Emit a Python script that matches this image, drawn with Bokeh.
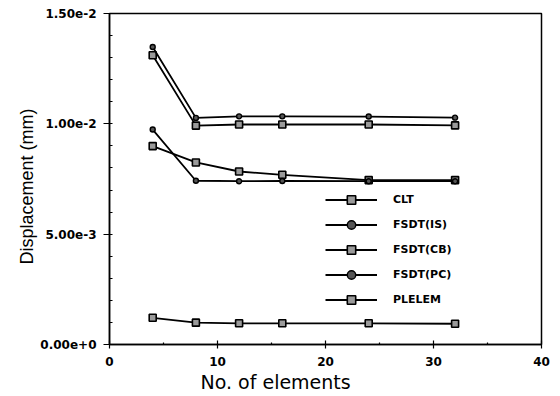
from bokeh.plotting import figure
from bokeh.models import Range1d, FixedTicker, Legend, LegendItem, Title
from bokeh.embed import file_html
from bokeh.resources import INLINE

elements = [4, 8, 12, 16, 24, 32]
clt = [0.01311, 0.00992, 0.00997, 0.00997, 0.00997, 0.00993]
fsdt_is = [0.01348, 0.01027, 0.01034, 0.01034, 0.01033, 0.01028]
fsdt_cb = [0.00899, 0.00825, 0.00784, 0.00769, 0.00745, 0.00745]
fsdt_pc = [0.00974, 0.00742, 0.00740, 0.00741, 0.00740, 0.00740]
plelem = [0.00121, 0.00099, 0.00096, 0.00096, 0.00096, 0.00094]

y_ticks = [0.0, 0.005, 0.01, 0.015]
y_tick_labels = ["0.00e+0", "5.00e-3", "1.00e-2", "1.50e-2"]
x_ticks = [0, 10, 20, 30, 40]

p = figure(width=555, height=392, output_backend="svg", toolbar_location=None,
           x_range=Range1d(0, 40), y_range=Range1d(0, 0.015),
           min_border_left=109, min_border_right=14, min_border_top=13, min_border_bottom=45)
p.xgrid.visible = False
p.ygrid.visible = False
p.outline_line_color = "black"
p.outline_line_width = 1.5
p.background_fill_color = "white"
p.border_fill_color = "white"

series = [
    ("CLT", clt, "square"),
    ("FSDT(IS)", fsdt_is, "circle"),
    ("FSDT(CB)", fsdt_cb, "square"),
    ("FSDT(PC)", fsdt_pc, "circle"),
    ("PLELEM", plelem, "square"),
]

items = []
for name, ys, mk in series:
    r1 = p.line(elements, ys, line_color="black", line_width=1.8)
    if mk == "square":
        r2 = p.scatter(elements, ys, marker="square", size=7, fill_color="#9a9a9a",
                       line_color="black", line_width=1.6)
    else:
        r2 = p.scatter(elements, ys, marker="circle", size=5, fill_color="#555555",
                       line_color="black", line_width=1.4)
    items.append(LegendItem(label=name, renderers=[r1, r2]))

legend = Legend(items=items, location=(216, 34), padding=0, margin=0,
                glyph_width=52, glyph_height=21, label_height=21, spacing=4,
                label_standoff=16, border_line_color=None, background_fill_alpha=0,
                label_text_font="DejaVu Sans", label_text_font_style="bold",
                label_text_font_size="11px", label_text_color="black")
p.add_layout(legend)

p.yaxis.ticker = FixedTicker(ticks=y_ticks,
                             minor_ticks=[i * 0.001 for i in range(16)])
p.yaxis.major_label_overrides = {t: l for t, l in zip(y_ticks, y_tick_labels)}
p.xaxis.ticker = FixedTicker(ticks=x_ticks, minor_ticks=[5, 15, 25, 35])

for ax in (p.xaxis[0], p.yaxis[0]):
    ax.axis_line_color = "black"
    ax.axis_line_width = 1.5
    ax.major_tick_line_color = "black"
    ax.minor_tick_line_color = "black"
    ax.major_tick_line_width = 1.2
    ax.minor_tick_line_width = 1.2
    ax.major_label_text_font = "DejaVu Sans"
    ax.major_label_text_font_style = "bold"
    ax.major_label_text_font_size = "12px"
    ax.major_label_text_color = "black"

p.yaxis.major_tick_out = 6
p.yaxis.major_tick_in = 0
p.yaxis.minor_tick_out = 0
p.yaxis.minor_tick_in = 3
p.yaxis.major_label_standoff = 7
p.xaxis.major_tick_out = 4
p.xaxis.major_tick_in = 4
p.xaxis.minor_tick_out = 0
p.xaxis.minor_tick_in = 2
p.xaxis.major_label_standoff = 8

p.add_layout(Title(text="No.  of elements", align="left", offset=91,
                   text_font="DejaVu Sans", text_font_style="normal",
                   text_font_size="19px", text_color="black", standoff=0), "below")
p.add_layout(Title(text="Displacement (mm)", align="left", offset=80,
                   text_font="Liberation Sans", text_font_style="normal",
                   text_font_size="18px", text_color="black", standoff=2), "left")

open("out.html", "w").write(file_html(p, INLINE))
